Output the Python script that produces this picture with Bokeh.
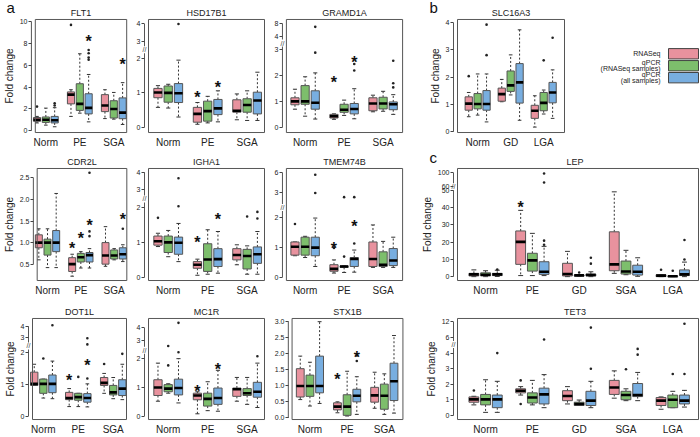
import numpy as np
from bokeh.plotting import figure
from bokeh.layouts import row, column
from bokeh.models import Range1d, FixedTicker, Title
from bokeh.core.properties import value
from bokeh.embed import file_html
from bokeh.resources import INLINE

FONT = "Liberation Sans"
SERIES = ["RNASeq", "qPCR\n(RNASeq samples)", "qPCR\n(all samples)"]
COLORS = ["#E8929E", "#7DBE6C", "#78AEE0"]
GROUPS_A = ["Norm", "PE", "SGA"]
GROUPS_B = ["Norm", "GD", "LGA"]
GROUPS_C = ["Norm", "PE", "GD", "SGA", "LGA"]

# ---- box statistics, order: group-major, series (RNASeq, qPCR RNASeq samples, qPCR all) ----
FLT1 = dict(
    lo=[0.7, 0.5, 0.35, 1.3, 1.6, 0.8, 1.1, 1.05, 0.56],
    q1=[0.85, 0.75, 0.7, 2.45, 1.85, 1.53, 1.74, 1.15, 1.09],
    med=[1.0, 1.0, 0.95, 3.3, 2.45, 2.08, 2.3, 1.98, 1.65],
    q3=[1.2, 1.25, 1.3, 3.55, 4.3, 3.38, 3.3, 2.74, 3.0],
    hi=[1.3, 2.06, 2.1, 3.75, 7.05, 5.15, 3.75, 3.5, 4.4],
    out=[[2.2], [], [2.3, 2.5], [9.7], [], [6.5, 6.7, 7.1, 7.4], [], [], []],
    star=[(5, 9.1), (8, 6.95)])
HSD17B1 = dict(
    lo=[0.58, 0.56, 0.3, 0.09, 0.13, 0.16, 0.22, 0.2, 0.2],
    q1=[0.86, 0.73, 0.72, 0.15, 0.18, 0.37, 0.44, 0.44, 0.39],
    med=[1.01, 1.0, 0.99, 0.39, 0.47, 0.55, 0.48, 0.65, 0.78],
    q3=[1.13, 1.2, 1.27, 0.58, 0.76, 0.81, 0.8, 0.83, 1.02],
    hi=[1.21, 1.25, 1.95, 0.72, 0.9, 1.06, 0.97, 1.06, 1.6],
    out=[[], [], [4.0], [], [], [], [], [], []],
    star=[(3, 1.15), (5, 1.46)])
GRAMD1A = dict(
    lo=[0.7, 0.43, 0.32, 0.31, 0.46, 0.33, 0.6, 0.62, 0.5],
    q1=[0.87, 0.89, 0.7, 0.36, 0.58, 0.52, 0.64, 0.71, 0.68],
    med=[1.0, 1.0, 0.95, 0.43, 0.68, 0.71, 0.92, 0.92, 0.89],
    q3=[1.14, 1.61, 1.41, 0.5, 0.89, 0.92, 1.14, 1.16, 0.98],
    hi=[1.47, 1.95, 2.1, 0.52, 1.05, 1.49, 1.24, 1.39, 1.26],
    out=[[], [], [2.88, 7.0], [], [], [2.19, 2.44], [], [], [1.54, 1.7, 2.57]],
    star=[(3, 2.13), (5, 2.87)])
SLC16A3 = dict(
    lo=[0.55, 0.61, 0.36, 1.1, 1.35, 0.42, 0.17, 0.65, 0.49],
    q1=[0.79, 0.84, 0.79, 1.12, 1.48, 1.05, 0.49, 0.77, 1.06],
    med=[1.03, 1.02, 1.02, 1.38, 1.7, 1.81, 0.77, 1.06, 1.44],
    q3=[1.28, 1.4, 1.51, 1.6, 2.23, 2.5, 0.97, 1.44, 1.81],
    hi=[1.44, 2.12, 2.12, 1.92, 2.82, 3.74, 1.32, 1.53, 2.27],
    out=[[2.04], [], [2.81, 3.93], [], [], [], [], [2.62], [3.45]],
    star=[])
CDR2L = dict(
    lo=[0.6, 0.42, 0.42, 0.22, 0.41, 0.41, 0.45, 0.6, 0.56],
    q1=[0.88, 0.71, 0.79, 0.33, 0.55, 0.55, 0.5, 0.62, 0.62],
    med=[1.0, 1.0, 1.0, 0.5, 0.66, 0.71, 0.7, 0.7, 0.73],
    q3=[1.18, 1.08, 1.28, 0.65, 0.75, 0.77, 1.0, 0.83, 0.88],
    hi=[1.32, 1.32, 2.14, 0.73, 0.79, 0.86, 1.37, 0.86, 0.95],
    out=[[], [], [], [], [], [1.15, 1.26, 2.62], [], [], [1.32]],
    star=[(3, 1.1), (4, 1.33), (5, 1.62), (8, 1.77)])
IGHA1 = dict(
    lo=[0.88, 0.59, 0.45, 0.06, 0.09, 0.12, 0.36, 0.09, 0.09],
    q1=[0.92, 0.71, 0.66, 0.26, 0.17, 0.31, 0.5, 0.24, 0.4],
    med=[1.03, 1.0, 0.99, 0.36, 0.51, 0.52, 0.64, 0.61, 0.66],
    q3=[1.18, 1.18, 1.15, 0.45, 0.96, 0.82, 0.82, 0.8, 0.87],
    hi=[1.26, 1.34, 1.54, 0.52, 1.36, 1.31, 0.93, 0.9, 1.31],
    out=[[1.7], [], [2.06, 3.66], [], [], [], [], [1.74], [1.68, 1.87]],
    star=[(3, 1.29), (5, 1.94)])
TMEM74B = dict(
    lo=[0.72, 0.66, 0.36, 0.14, 0.16, 0.17, 0.33, 0.33, 0.33],
    q1=[0.74, 0.74, 0.72, 0.2, 0.33, 0.36, 0.36, 0.36, 0.39],
    med=[1.02, 1.02, 0.99, 0.28, 0.36, 0.61, 0.61, 0.42, 0.56],
    q3=[1.18, 1.34, 1.34, 0.42, 0.38, 0.66, 1.18, 0.85, 0.96],
    hi=[1.18, 1.37, 1.98, 0.58, 0.38, 0.91, 1.75, 1.2, 1.34],
    out=[[1.78], [], [3.0, 5.7], [0.98], [0.69, 2.83], [1.13, 2.83], [], [], []],
    star=[(3, 1.31), (5, 2.05)])
DOT1L = dict(
    lo=[0.97, 0.57, 0.55, 0.3, 0.3, 0.29, 0.72, 0.55, 0.52],
    q1=[0.97, 0.72, 0.74, 0.52, 0.5, 0.44, 0.97, 0.67, 0.65],
    med=[1.02, 1.02, 1.02, 0.57, 0.6, 0.57, 1.05, 0.75, 0.87],
    q3=[1.39, 1.17, 1.3, 0.75, 0.72, 0.71, 1.22, 0.97, 1.15],
    hi=[1.64, 1.17, 1.74, 0.87, 0.72, 1.02, 1.35, 1.22, 1.64],
    out=[[], [1.82], [4.1], [], [1.24], [1.19, 2.55, 2.95], [1.65], [], [1.97]],
    star=[(3, 1.45), (5, 1.92)])
MC1R = dict(
    lo=[0.52, 0.8, 0.46, 0.08, 0.19, 0.17, 0.52, 0.41, 0.3],
    q1=[0.72, 0.85, 0.74, 0.57, 0.35, 0.41, 0.69, 0.72, 0.66],
    med=[1.0, 0.96, 0.98, 0.72, 0.6, 0.63, 0.94, 0.8, 0.85],
    q3=[1.27, 1.1, 1.29, 0.8, 0.8, 0.98, 0.98, 0.96, 1.18],
    hi=[1.85, 1.13, 2.01, 0.85, 1.2, 1.6, 1.35, 1.35, 1.85],
    out=[[], [1.77, 2.7], [2.36, 4.4], [], [], [], [], [], [2.14]],
    star=[(3, 1.22), (5, 1.98)])
STX1B = dict(
    lo=[0.57, 0.37, 0.45, 0.16, 0.06, 0.11, 0.3, 0.11, 0.15],
    q1=[0.65, 0.67, 0.78, 0.25, 0.08, 0.5, 0.49, 0.27, 0.54],
    med=[0.99, 0.99, 0.99, 0.35, 0.35, 0.69, 0.7, 0.69, 1.14],
    q3=[1.53, 1.33, 1.92, 0.47, 0.72, 0.89, 0.95, 1.05, 1.7],
    hi=[1.92, 1.73, 2.99, 0.5, 1.45, 1.28, 1.42, 1.37, 2.56],
    out=[[], [], [], [], [], [1.77, 1.94], [], [], []],
    star=[(3, 1.52), (5, 2.2)])
LEP = dict(
    lo=[0, 0, 0.1, 0.6, 0.6, 0.6, 0, 0.4, 0, 1.9, 1.1, 0.2, 0, 0, 0],
    q1=[0.4, 0.4, 0.6, 7.1, 3.2, 1.3, 0.4, 0.4, 0.4, 3.4, 1.5, 0.9, 0, 0, 0.6],
    med=[1.3, 1.1, 1.3, 20.1, 9.4, 2.8, 1.5, 0.75, 0.9, 7.1, 3.0, 2.8, 0.6, 0.2, 1.3],
    q3=[1.9, 2.2, 1.9, 26.4, 13.5, 8.6, 7.7, 0.9, 1.5, 25.9, 9.0, 6.6, 1.1, 0.4, 3.9],
    hi=[3.9, 3.4, 3.7, 38.3, 25.0, 17.5, 14.6, 0.9, 2.8, 49.0, 15.2, 10.9, 1.1, 0.4, 8.4],
    out=[[], [], [4.1], [], [], [18.4, 20.8, 72, 98], [], [2.4], [7.5, 10.9], [], [], [],
         [4.0], [3.4], [9.9, 21.2]],
    star=[(3, 45.6)])
TET3 = dict(
    lo=[0.68, 0.2, 0.2, 1.31, 0.68, 0.5, 0.74, 0.64, 0.5, 1.11, 0.95, 0.95, 0.4, 0.5, 0.54],
    q1=[0.85, 0.68, 0.5, 1.45, 0.8, 0.74, 0.95, 0.64, 0.64, 1.35, 1.01, 1.21, 0.64, 0.5, 0.74],
    med=[1.03, 1.03, 1.03, 1.59, 1.15, 1.35, 1.25, 0.74, 0.95, 1.79, 1.31, 1.31, 0.95, 1.01, 0.95],
    q3=[1.19, 1.35, 1.31, 1.71, 1.45, 1.75, 1.59, 0.85, 1.55, 2.25, 1.55, 2.05, 1.15, 1.31, 1.31],
    hi=[1.23, 2.29, 2.19, 1.85, 2.25, 2.62, 1.85, 0.99, 2.19, 2.86, 1.71, 2.76, 1.19, 1.55, 1.61],
    out=[[1.6], [], [4.0], [0.74, 2.25], [], [5.74], [], [], [3.0, 9.8], [], [2.96], [3.9, 4.54],
         [], [2.66], [2.66, 11.3]],
    star=[])

# ---- axes: tick values, piecewise (broken) axis knots ----
TICKS = {
    "FLT1": [0, 2, 4, 6, 8, 10], "HSD17B1": [0, 1, 2, 3, 4], "GRAMD1A": [0, 1, 2, 3, 4, 8],
    "SLC16A3": [0, 1, 2, 3, 4], "CDR2L": [0.5, 1.0, 1.5, 2.0, 2.5], "IGHA1": [0, 1, 2, 3, 4],
    "TMEM74B": [0, 1, 2, 3, 6], "DOT1L": [0, 1, 2, 3, 4], "MC1R": [0, 1, 2, 3, 4],
    "STX1B": [0.0, 0.5, 1.0, 1.5, 2.0, 2.5, 3.0], "LEP": [0, 10, 20, 30, 40, 50, 60, 100],
    "TET3": [0, 1, 2, 3, 4, 6, 12]}
TICK_FMT = {"CDR2L": "{:.1f}", "STX1B": "{:.1f}"}
KNOTS = {
    "HSD17B1": ([0, 2, 4, 6], [0, 2, 3, 4]),
    "GRAMD1A": ([0, 3, 4, 8, 12], [0, 3, 3.5, 4, 4.5]),
    "IGHA1": ([0, 2, 4, 6], [0, 2, 3, 4]),
    "TMEM74B": ([0, 2, 3, 6, 8], [0, 2, 2.82, 3.5, 3.95]),
    "DOT1L": ([0, 2, 3, 4, 6], [0, 2, 2.49, 2.84, 3.54]),
    "MC1R": ([0, 2, 3, 4, 6], [0, 2, 2.64, 3.08, 3.96]),
    "LEP": ([0, 50, 100], [0, 50, 60]),
    "TET3": ([0, 4, 6, 12, 14], [0, 4, 5, 6, 6.33])}
# where the axis-break mark sits (axis position units)
BREAK = {"HSD17B1": 2.25, "GRAMD1A": 3.25, "IGHA1": 2.24, "TMEM74B": 2.33,
         "DOT1L": 2.22, "MC1R": 2.3, "LEP": 52.0, "TET3": 4.55}
YLIM = {"FLT1": (-0.18, 10.2), "HSD17B1": (-0.15, 3.13), "GRAMD1A": (-0.2, 4.16),
        "SLC16A3": (-0.03, 4.12), "CDR2L": (0.12, 2.72), "IGHA1": (-0.09, 3.11),
        "TMEM74B": (-0.11, 3.64), "DOT1L": (-0.11, 3.09), "MC1R": (-0.12, 3.41),
        "STX1B": (-0.05, 3.09), "LEP": (-2.25, 62.5), "TET3": (-0.26, 6.22)}

BORDER = "#555555"
INK = "#222222"
GAP = 7        # px from plot box to the outer end of the y ticks
AXGAP = 4      # px from plot box to the (R style, detached) y axis line


def panel(name, d, groups, xlim, bw, off, w, h, lb, rb, tb, bb,
          ylabel=False, letter=None, letter_offset=-22, letter_standoff=-21):
    def T(v):
        v = np.asarray(v, dtype=float)
        if name in KNOTS:
            kv, kp = KNOTS[name]
            return np.interp(v, kv, kp)
        return v

    ylim = YLIM[name]
    fw, fh = w - lb - rb, h - tb - bb          # plot-box size in px
    ux = (xlim[1] - xlim[0]) / fw
    uy = (ylim[1] - ylim[0]) / fh
    er = GAP if rb >= GAP else max(rb - 1, 0)  # frame extension right of the box
    p = figure(width=w, height=h,
               x_range=Range1d(xlim[0] - GAP * ux, xlim[1] + er * ux),
               y_range=Range1d(ylim[0] - uy, ylim[1] + uy),
               output_backend="svg", toolbar_location=None,
               min_border_left=lb - GAP, min_border_right=rb - er,
               min_border_top=tb - 1, min_border_bottom=bb - 1)
    p.background_fill_color = "white"
    p.border_fill_color = "white"
    p.outline_line_color = None
    p.grid.visible = False
    p.add_layout(Title(text=name, align="center", text_font=FONT, text_font_size="9px",
                       text_font_style="normal", text_color=INK, standoff=1), "above")
    if letter:
        p.add_layout(Title(text=letter, align="left", offset=letter_offset, text_font=FONT,
                           text_font_size="15px", text_font_style="normal",
                           text_color="#111111", standoff=letter_standoff), "above")

    ng = len(groups)
    xs = np.array([g + 1 + (s - 1) * off for g in range(ng) for s in range(3)])
    cols = [COLORS[s] for g in range(ng) for s in range(3)]
    lo, q1, med, q3, hi = (T(d[k]) for k in ("lo", "q1", "med", "q3", "hi"))

    # whiskers (dashed) and staples
    p.segment(x0=np.r_[xs, xs], y0=np.r_[q3, q1], x1=np.r_[xs, xs], y1=np.r_[hi, lo],
              line_color="#333333", line_width=1, line_dash="2 2")
    p.segment(x0=np.r_[xs, xs] - bw / 4, y0=np.r_[hi, lo], x1=np.r_[xs, xs] + bw / 4,
              y1=np.r_[hi, lo], line_color="#333333", line_width=1)
    # boxes
    p.quad(left=xs - bw / 2, right=xs + bw / 2, bottom=q1, top=q3, fill_color=cols,
           line_color=BORDER, line_width=1)
    p.segment(x0=xs - bw / 2, y0=med, x1=xs + bw / 2, y1=med, line_color="black",
              line_width=2.6)
    # outliers
    ox = [xs[i] for i, lst in enumerate(d["out"]) for _ in lst]
    oy = T([v for lst in d["out"] for v in lst])
    if len(ox):
        p.scatter(x=ox, y=oy, size=2.6, fill_color="#222222", line_color=None)
    # significance stars
    if d["star"]:
        sx = [xs[i] for i, _ in d["star"]]
        sy = T([v for _, v in d["star"]])
        p.text(x=sx, y=sy, text=["*"] * len(sx), text_font=value(FONT),
               text_font_size="16px", text_font_style="bold", text_align="center",
               text_baseline="alphabetic", y_offset=10, text_color="#111111")

    # plot box (R "box()") and detached y axis line spanning the ticks
    p.quad(left=xlim[0], right=xlim[1], bottom=ylim[0], top=ylim[1], fill_color=None,
           line_color=BORDER, line_width=1)
    tpos = [float(t) for t in T(TICKS[name])]
    ax_x = xlim[0] - AXGAP * ux
    p.segment(x0=ax_x, y0=tpos[0], x1=ax_x, y1=tpos[-1], line_color="#555555", line_width=1)
    if name in BREAK:
        p.text(x=[ax_x], y=[BREAK[name]], text=["//"], text_font=value(FONT),
               text_font_size="7px", text_align="center", text_baseline="middle",
               text_color="#333333", background_fill_color="white")

    # x axis: labels only
    xa = p.xaxis[0]
    xa.ticker = FixedTicker(ticks=list(range(1, ng + 1)), minor_ticks=[])
    xa.major_label_overrides = {i + 1: g for i, g in enumerate(groups)}
    xa.axis_line_color = None
    xa.major_tick_line_color = None
    xa.major_tick_in = 0
    xa.major_tick_out = 0
    xa.major_label_standoff = 3
    xa.major_label_text_font = FONT
    xa.major_label_text_font_size = "10px"
    xa.major_label_text_color = INK

    # y axis (possibly broken scale): ticks reach in to the detached axis line
    ya = p.yaxis[0]
    fmt = TICK_FMT.get(name, "{:g}")
    ya.ticker = FixedTicker(ticks=tpos, minor_ticks=[])
    ya.major_label_overrides = {tp: fmt.format(t) for tp, t in zip(tpos, TICKS[name])}
    ya.axis_line_color = None
    ya.major_tick_line_color = "#444444"
    ya.major_tick_in = GAP - AXGAP
    ya.major_tick_out = 0
    ya.major_label_standoff = 1
    ya.major_label_text_font = FONT
    ya.major_label_text_font_size = "7px"
    ya.major_label_text_color = INK
    if ylabel:
        ya.axis_label = "Fold change"
        ya.axis_label_text_font = FONT
        ya.axis_label_text_font_size = "10px"
        ya.axis_label_text_font_style = "normal"
        ya.axis_label_text_color = INK
        ya.axis_label_standoff = 2
    return p


BW, OFF = 0.21, 0.26
X1, X2, X3 = (0.69, 3.38), (0.5, 3.44), (0.52, 3.5)
# row geometry: (height, top border, bottom border)
R1, R2, R3 = (150, 19, 14), (148, 18, 15), (139, 20, 14)
# column geometry: (width, left border, right border)
C1, C2, C3 = (133, 32, 7), (138, 15, 7), (138, 13, 7)
CB, CC = (162, 48, 7), (291, 48, 2)


def cell(name, d, groups, xlim, col, rw, bw=BW, off=OFF, **kw):
    return panel(name, d, groups, xlim, bw, off, col[0], rw[0], col[1], col[2],
                 rw[1], rw[2], **kw)


f_flt1 = cell("FLT1", FLT1, GROUPS_A, X1, C1, R1, ylabel=True, letter="a")
f_hsd = cell("HSD17B1", HSD17B1, GROUPS_A, X2, C2, R1)
f_gram = cell("GRAMD1A", GRAMD1A, GROUPS_A, X3, C3, R1)
f_cdr = cell("CDR2L", CDR2L, GROUPS_A, X1, C1, R2, ylabel=True)
f_igha = cell("IGHA1", IGHA1, GROUPS_A, X2, C2, R2)
f_tmem = cell("TMEM74B", TMEM74B, GROUPS_A, X3, C3, R2)
f_dot = cell("DOT1L", DOT1L, GROUPS_A, X1, C1, R3, ylabel=True)
f_mc1r = cell("MC1R", MC1R, GROUPS_A, X2, C2, R3)
f_stx = cell("STX1B", STX1B, GROUPS_A, X3, C3, R3)

f_slc = cell("SLC16A3", SLC16A3, GROUPS_B, (0.39, 3.63), CB, R1, bw=0.22, off=0.27,
             ylabel=True, letter="b", letter_offset=-21)
f_lep = cell("LEP", LEP, GROUPS_C, (0.4, 5.55), CC, R2, bw=0.21, off=0.25,
             ylabel=True, letter="c", letter_offset=-21, letter_standoff=-23)
f_tet = cell("TET3", TET3, GROUPS_C, (0.4, 5.55), CC, R3, bw=0.21, off=0.25, ylabel=True)

# ---- legend panel (coordinates in pixels of this small canvas) ----
LW, LH = 700 - C1[0] - C2[0] - C3[0] - CB[0], R1[0]
leg = figure(width=LW, height=LH, x_range=Range1d(0, LW), y_range=Range1d(0, LH),
             output_backend="svg", toolbar_location=None, title=None,
             min_border_left=0, min_border_right=0, min_border_top=0, min_border_bottom=0,
             x_axis_location=None, y_axis_location=None)
leg.grid.visible = False
leg.outline_line_color = None
leg.background_fill_color = "white"
leg.border_fill_color = "white"
ly = [LH - 46 - 15.6 * i for i in range(len(SERIES))]
leg.rect(x=[LW - 17] * len(SERIES), y=ly, width=30, height=13.5, fill_color=COLORS,
         line_color="#444444", line_width=1)
tx, ty, tt = [], [], []
for i, lab in enumerate(SERIES):
    lines = lab.split("\n")
    for j, ln in enumerate(lines):
        tx.append(LW - 40)
        ty.append(ly[i] + (len(lines) - 1) * 4.0 - j * 8.0)
        tt.append(ln)
leg.text(x=tx, y=ty, text=tt, text_font=value(FONT), text_font_size="7px",
         text_align="right", text_baseline="middle", text_color=INK)

layout = row(
    column(row(f_flt1, f_hsd, f_gram), row(f_cdr, f_igha, f_tmem), row(f_dot, f_mc1r, f_stx)),
    column(row(f_slc, leg), f_lep, f_tet))

open("out.html", "w").write(file_html(layout, INLINE))
